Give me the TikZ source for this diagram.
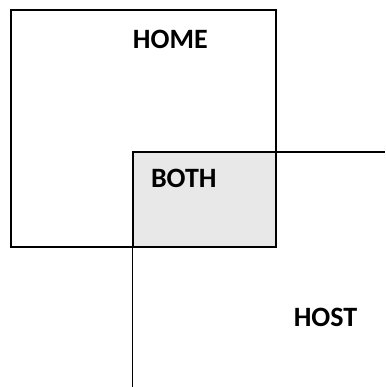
\documentclass[tikz,border=0pt]{standalone}
\usepackage{fontspec}
\setmainfont{Carlito}
\begin{document}
\begin{tikzpicture}[x=1pt,y=-1pt,
  frame/.style={draw=black,line width=2pt},
  hostline/.style={draw=black,line width=1.8pt},
  lbl/.style={anchor=base,inner sep=0pt,font=\fontsize{28}{30}\selectfont\bfseries}]
\useasboundingbox (0,0) rectangle (385,387);
\coordinate (hometl) at (11,10);
\coordinate (homebr) at (275.5,247);
\coordinate (bothtl) at (132.5,152);
\coordinate (bothbr) at (276,247);
\coordinate (hostr) at (385,152);
\coordinate (hostb) at (132.5,387);
\draw[frame] (hometl) rectangle (homebr);
\draw[frame,fill={rgb,255:red,232;green,232;blue,232}] (bothtl) rectangle (bothbr);
\draw[hostline] (bothbr |- bothtl) -- (hostr);
\draw[hostline] (bothtl |- bothbr) -- (hostb);
\node[lbl] (home) at (170.3,48.3) {HOME};
\node[lbl] (both) at (183.8,187.7) {BOTH};
\node[lbl] (host) at (325.5,326.7) {HOST};
\end{tikzpicture}
\end{document}
